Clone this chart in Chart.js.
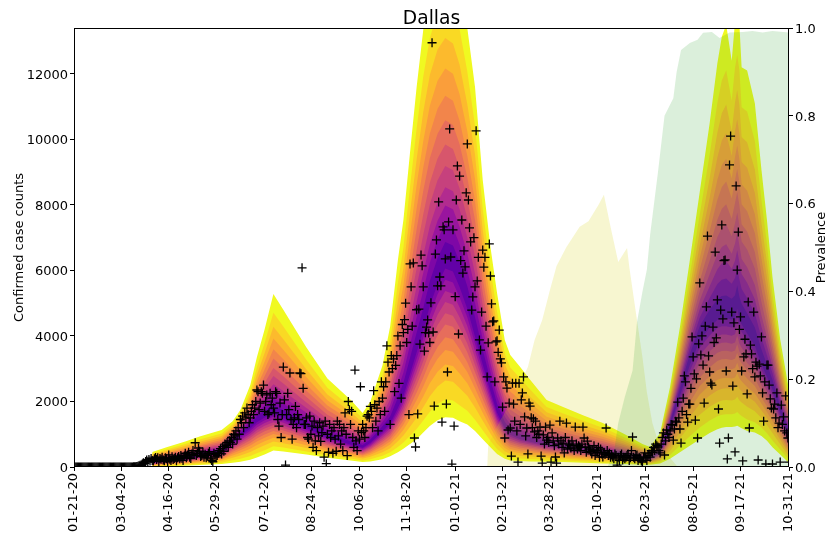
<!DOCTYPE html>
<html><head><meta charset="utf-8">
<script src="https://cdn.jsdelivr.net/npm/chart.js@4.4.0/dist/chart.umd.min.js"></script>
<style>html,body{margin:0;padding:0;background:#fff;}#wrap{width:829px;height:536px;}</style>
</head><body><div id="wrap"><canvas id="c" width="829" height="536"></canvas></div>
<script>
const chartTitle = 'Dallas';
const yLabel = 'Confirmed case counts';
const y2Label = 'Prevalence';
const tickDays = [0,43,86,129,173,216,259,302,346,389,432,475,519,562,605,649];
const tickLabels = ['01-21-20','03-04-20','04-16-20','05-29-20','07-12-20','08-24-20','10-06-20','11-18-20','01-01-21','02-13-21','03-28-21','05-10-21','06-23-21','08-05-21','09-17-21','10-31-21'];
const yTicks = [0,2000,4000,6000,8000,10000,12000];
const y2Ticks = [0,0.2,0.4,0.6,0.8,1.0];

// observed daily confirmed cases, day 0 = 01-21-20
const dailyCases = [
0,0,0,0,0,0,0,0,0,0,
0,0,0,0,0,0,0,0,0,0,
0,0,0,0,0,0,0,0,0,0,
0,0,0,0,0,0,0,0,0,0,
0,0,0,0,0,0,0,0,0,0,
0,0,1,2,5,8,10,15,22,35,
50,60,90,130,110,170,210,160,230,180,
260,200,180,250,290,230,280,170,260,240,
300,210,190,280,250,160,370,240,200,310,
230,260,300,190,280,320,250,350,270,200,
330,420,280,370,450,300,260,400,500,380,
740,350,420,580,480,320,350,460,300,390,
280,350,420,470,250,200,160,420,380,310,
350,420,500,560,400,620,480,700,650,750,
600,800,750,900,700,1000,950,1100,850,1200,
1000,1450,1350,1550,1200,1650,1500,1800,1600,1350,
1500,1700,1900,1600,1800,2000,2350,2300,1750,1950,
2300,2250,2500,1700,2000,2200,1600,1650,2250,1900,
2100,1800,1650,2300,2250,1450,1250,1950,900,1600,
3050,2050,60,1600,2250,1750,2870,1450,850,1300,
1500,1850,1200,1600,1450,2870,2850,6080,2400,1300,
1300,1500,900,850,1550,1000,1250,600,1400,800,
500,1200,950,1350,780,1050,1250,300,1400,100,
1000,450,1300,900,1100,420,1200,850,480,1400,
950,1300,700,1100,500,1200,1650,1000,350,2000,
1750,1300,1700,900,600,2960,800,500,1100,850,
2450,1050,1300,1100,900,1200,1550,1600,1500,1850,
1700,1200,2330,1900,1400,1800,1100,2000,1600,2600,
2100,2450,1700,2600,3700,3200,2900,1300,3400,3000,
3300,2300,3100,3400,4000,2550,3700,2100,4350,4100,
4500,5000,3800,4200,1600,6200,5500,4300,6230,885,
610,4800,1620,4820,3750,6470,6140,5500,3540,4100,
4270,4490,4090,3800,5010,12950,4120,1860,6500,6930,
5530,8090,5800,5530,1370,7330,7240,6350,1920,2900,
7480,10320,6410,90,7240,1250,5200,8150,9190,4060,
8880,6300,7540,5920,6600,6110,8370,9860,8150,7300,
6870,4790,5190,7000,5500,10260,5680,6400,3880,3570,
4730,6620,6100,6400,4300,2750,3790,6810,5830,4980,
4430,4460,2600,3820,3850,3500,4180,3300,3180,1830,
2750,885,2600,2410,1130,1950,1190,335,2560,1920,
1400,2560,1100,150,2560,1300,2050,2260,2750,1530,
950,1190,400,1950,1860,1500,1200,1470,1070,1400,
900,1100,1000,1220,335,120,980,700,1220,820,
900,750,1280,150,1040,800,650,305,120,885,
700,1400,800,600,730,430,900,1340,550,700,
670,580,800,650,500,1220,700,550,650,610,
500,700,1220,885,600,450,790,610,550,480,
400,520,650,350,500,450,600,300,550,400,
305,450,380,1190,500,350,420,300,380,305,
250,400,350,60,300,200,350,400,215,300,
250,300,350,400,200,280,500,915,300,250,
350,366,200,300,250,180,150,300,430,280,
200,350,400,300,500,450,600,500,700,650,
610,500,430,700,900,1040,366,800,1130,1000,
900,1100,1300,1280,820,1160,1400,1370,1980,1500,
1160,730,1700,2100,2780,2600,1600,1370,1920,1920,
2400,3970,3360,2840,1430,2690,885,3760,5620,3420,
4000,3110,1950,4300,4890,7050,3390,2900,2560,2500,
4270,3800,6560,3940,5100,1770,730,4790,7390,4520,
6300,6320,2930,245,885,9220,10100,4730,2470,4400,
460,8580,6010,7170,4200,4580,2930,185,3360,3900,
3450,2230,5040,1190,3720,3450,3000,4730,2750,3200,
3080,214,3140,2780,3970,2260,1400,2600,92,3110,
3110,2500,2080,1800,92,1770,1920,1500,2260,1200,
1340,150,1890,1300,1530,1100,2170,1040,885,150
];

// projection fan: median and outer (widest) band limits
const fanDays   = [71,84,101,114,134,144,151,160,166,173,181,190,211,230,251,262,269,280,287,294,299,305,311,317,323,330,337,344,350,357,364,371,378,384,391,396,405,414,429,444,462,480,500,516,523,532,541,550,559,568,577,584,588,592,597,600,602,604,606,611,618,624,629,634,641,649];
const fanMedian = [150,210,280,370,480,800,1000,1250,1450,1600,1700,1580,1250,950,720,620,780,1150,1400,1900,2300,3000,3700,4400,5200,5900,6400,6300,5800,5100,4200,3300,2440,1750,1250,1040,900,820,700,620,520,460,370,290,270,450,1300,2300,3300,4090,4500,4750,4800,4800,4750,4800,5100,4750,4600,4300,3900,3300,2900,2500,1750,1000];
const fanUpper  = [460,600,780,930,1130,1400,1740,2500,3350,4200,5280,4800,3650,2700,2050,1650,2000,3100,4300,6320,7540,9600,11600,13340,14600,15400,15700,15500,14800,13400,11600,8760,6716,5310,3877,3420,3050,2660,2045,1830,1580,1340,1000,700,610,1040,2440,4270,6320,8400,10500,12330,13130,13500,12400,13600,14000,13500,12200,12100,11100,9070,7540,5800,3900,2350];
const fanLower  = [10,20,40,60,90,130,160,220,290,380,500,470,380,280,200,150,170,240,330,450,560,700,850,1050,1250,1430,1520,1500,1400,1300,1100,850,600,400,250,200,180,170,160,150,130,110,90,70,70,110,250,450,650,850,1040,1150,1200,1220,1220,1240,1260,1220,1180,1100,1050,950,800,600,380,120];
// relative position of each quantile band edge between median and outer limit (inner -> outer)
const upperFrac = [0.05,0.11,0.17,0.23,0.30,0.37,0.45,0.53,0.62,0.72,0.84,1.0];
const lowerFrac = [0.07,0.14,0.21,0.28,0.35,0.42,0.50,0.58,0.67,0.77,0.89,1.0];

// variant prevalence
const alphaDays = [375,376,387,398,412,418,425,432,438,447,459,467,476,481,487,494,502,504,511,516,520,525,530,538,548];
const alphaPrev = [0,0.05,0.107,0.153,0.228,0.289,0.335,0.403,0.458,0.501,0.547,0.560,0.597,0.62,0.547,0.467,0.499,0.456,0.335,0.25,0.17,0.10,0.06,0.03,0];
const deltaDays = [484,490,494,500,507,511,516,520,523,530,536,544,547,551,559,566,571,579,586,595,607,616,625,634,649];
const deltaPrev = [0,0.03,0.10,0.16,0.22,0.33,0.40,0.45,0.53,0.67,0.80,0.84,0.90,0.95,0.966,0.973,0.989,0.991,0.977,0.99,0.991,0.993,0.99,0.993,0.99];

const plasmaStops = ['#0d0887','#41049d','#6a00a8','#8f0da4','#b12a90','#cc4778','#e16462','#f2844b','#fca636','#fcce25','#f0f921'];
function hexRgb(h){return [parseInt(h.substr(1,2),16),parseInt(h.substr(3,2),16),parseInt(h.substr(5,2),16)];}
function plasma(t){
  const s=Math.max(0,Math.min(1,t))*10; const i=Math.min(9,Math.floor(s)); const f=s-i;
  const a=hexRgb(plasmaStops[i]), b=hexRgb(plasmaStops[i+1]);
  return 'rgb('+a.map((v,j)=>Math.round(v+(b[j]-v)*f)).join(',')+')';
}

const N = upperFrac.length;
const datasets = [];
for (let k = N-1; k >= 0; k--) {
  const col = plasma(0.18 + k*(0.82/(N-1)));
  const lowIdx = datasets.length;
  datasets.push({type:'line', yAxisID:'y', order:20+k, borderColor:'rgba(0,0,0,0)', borderWidth:0, pointRadius:0, tension:0, fill:false,
    data: fanDays.map((d,i)=>({x:d, y: fanMedian[i]-lowerFrac[k]*(fanMedian[i]-fanLower[i])}))});
  datasets.push({type:'line', yAxisID:'y', order:20+k, borderColor:'rgba(0,0,0,0)', borderWidth:0, pointRadius:0, tension:0,
    fill:{target:lowIdx}, backgroundColor:col,
    data: fanDays.map((d,i)=>({x:d, y: fanMedian[i]+upperFrac[k]*(fanUpper[i]-fanMedian[i])}))});
}
datasets.push({type:'line', yAxisID:'y1', order:5, borderColor:'rgba(0,0,0,0)', borderWidth:0, pointRadius:0, tension:0,
  fill:'origin', backgroundColor:'rgba(214,210,20,0.2)', data: alphaDays.map((d,i)=>({x:d,y:alphaPrev[i]}))});
datasets.push({type:'line', yAxisID:'y1', order:4, borderColor:'rgba(0,0,0,0)', borderWidth:0, pointRadius:0, tension:0,
  fill:'origin', backgroundColor:'rgba(44,160,44,0.17)', data: deltaDays.map((d,i)=>({x:d,y:deltaPrev[i]}))});
datasets.push({type:'line', yAxisID:'y', order:0, showLine:false, pointStyle:'cross', pointRadius:4.5, pointBorderWidth:1.3,
  borderColor:'#000', pointBorderColor:'#000', backgroundColor:'#000', data: dailyCases.map((v,i)=>({x:i,y:v}))});

const decor = {
  id:'decor',
  afterDraw(chart){
    const {ctx, chartArea:a} = chart;
    ctx.save();
    ctx.strokeStyle='#000'; ctx.lineWidth=1;
    ctx.strokeRect(a.left+0.5, a.top+0.5, a.right-a.left-1, a.bottom-a.top-1);
    ctx.fillStyle='#000';
    ctx.font='18.7px "DejaVu Sans"'; ctx.textAlign='center'; ctx.textBaseline='alphabetic';
    ctx.fillText(chartTitle, (a.left+a.right)/2, 24);
    ctx.font='13px "DejaVu Sans"'; ctx.textBaseline='middle';
    ctx.translate(20,(a.top+a.bottom)/2); ctx.rotate(-Math.PI/2); ctx.fillText(yLabel,0,0);
    ctx.setTransform(1,0,0,1,0,0);
    ctx.translate(822,(a.top+a.bottom)/2); ctx.rotate(-Math.PI/2); ctx.fillText(y2Label,0,0);
    ctx.restore();
  }
};

Chart.defaults.font.family = 'DejaVu Sans';
Chart.defaults.font.size = 13;
Chart.defaults.color = '#000';
new Chart(document.getElementById('c'), {
  type:'line',
  data:{datasets},
  options:{
    responsive:false, animation:false, devicePixelRatio:1,
    layout:{padding:{top:28,left:0,right:0,bottom:0}},
    plugins:{legend:{display:false}, tooltip:{enabled:false}, title:{display:false}},
    scales:{
      x:{type:'linear', min:0, max:649,
        grid:{display:true, drawOnChartArea:false, drawTicks:true, tickLength:4, tickColor:'#000'},
        border:{display:false},
        afterBuildTicks:(s)=>{s.ticks = tickDays.map(v=>({value:v}));},
        afterFit:(s)=>{s.height = 69;},
        ticks:{autoSkip:false, minRotation:90, maxRotation:90, padding:2, color:'#000',
          callback:(v)=>{const i=tickDays.indexOf(v); return i>=0?tickLabels[i]:'';}}},
      y:{type:'linear', position:'left', min:0, max:13400,
        grid:{display:true, drawOnChartArea:false, drawTicks:true, tickLength:4, tickColor:'#000'},
        border:{display:false},
        afterBuildTicks:(s)=>{s.ticks = yTicks.map(v=>({value:v}));},
        afterFit:(s)=>{s.width = 74;},
        ticks:{padding:2, labelOffset:1.5, color:'#000', callback:(v)=>String(v)}},
      y1:{type:'linear', position:'right', min:0, max:1,
        grid:{display:true, drawOnChartArea:false, drawTicks:true, tickLength:4, tickColor:'#000'},
        border:{display:false},
        afterBuildTicks:(s)=>{s.ticks = y2Ticks.map(v=>({value:v}));},
        afterFit:(s)=>{s.width = 40;},
        ticks:{padding:2, labelOffset:1.5, color:'#000', callback:(v)=>Number(v).toFixed(1)}}
    }
  },
  plugins:[decor]
});
</script></body></html>
